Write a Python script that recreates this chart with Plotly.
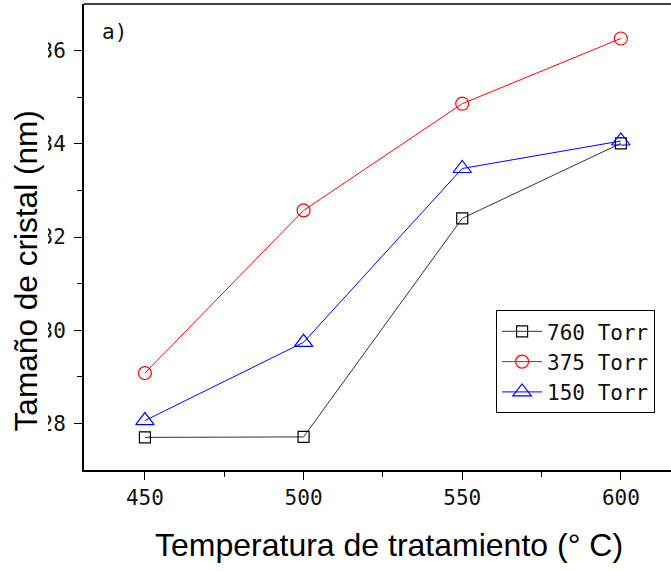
import plotly.graph_objects as go

# Treatment temperature (°C) and crystal size (nm) for each pressure
temperatura = [450, 500, 550, 600]
tam_760 = [27.70, 27.71, 32.40, 34.01]
tam_375 = [29.08, 32.57, 34.86, 36.26]
tam_150 = [28.06, 29.74, 33.47, 34.06]
y_ticks = [28, 30, 32, 34, 36]
y_minor = [29, 31, 33, 35]
x_ticks = [450, 500, 550, 600]
x_minor = [475, 525, 575]

series = [
    ("760 Torr", tam_760, "#000000", "#333333", "square-open", 11),
    ("375 Torr", tam_375, "#ff0000", "#ff0000", "circle-open", 13),
    ("150 Torr", tam_150, "#0000ff", "#0000ff", "triangle-up-open", 16),
]

fig = go.Figure()
for name, vals, mcol, lcol, sym, size in series:
    fig.add_trace(go.Scatter(
        x=temperatura, y=vals, name=name, mode="lines+markers",
        line=dict(color=lcol, width=1),
        marker=dict(symbol=sym, size=size, color=mcol, line=dict(width=1.2, color=mcol)),
    ))
# empty trace so the label-only axis is laid out
fig.add_trace(go.Scatter(x=[], y=[], yaxis="y2", showlegend=False, hoverinfo="skip"))

mono = "DejaVu Sans Mono"
tick_font = dict(family=mono, size=21, color="#111111")

fig.update_layout(
    width=671, height=571,
    margin=dict(l=84, r=0, t=4, b=101),
    paper_bgcolor="white", plot_bgcolor="white",
    showlegend=True,
    legend=dict(
        x=0.702, y=0.343, xanchor="left", yanchor="top",
        bordercolor="#000000", borderwidth=1, bgcolor="white",
        font=dict(family=mono, size=21, color="#111111"),
        itemwidth=40,
    ),
    xaxis=dict(
        range=[430.8, 615.8], tickvals=x_ticks,
        ticks="outside", ticklen=8, tickwidth=1.2, tickcolor="#000000",
        minor=dict(tickvals=x_minor, ticks="outside", ticklen=5, tickcolor="#000000"),
        showline=True, linecolor="#000000", linewidth=1.5,
        showgrid=False, zeroline=False, tickfont=tick_font,
    ),
    yaxis=dict(
        range=[27, 37], tickvals=y_ticks,
        ticks="outside", ticklen=8, tickwidth=1.2, tickcolor="#000000",
        minor=dict(tickvals=y_minor, ticks="outside", ticklen=5, tickcolor="#000000"),
        showline=True, linecolor="#000000", linewidth=1.5,
        showgrid=False, zeroline=False, showticklabels=False,
    ),
    # tick labels of the y axis, set a little further out from the marks
    yaxis2=dict(
        overlaying="y", anchor="x", side="left", range=[27, 37], tickvals=y_ticks,
        ticks="outside", ticklen=13, tickcolor="rgba(0,0,0,0)",
        showline=False, showgrid=False, zeroline=False, tickfont=tick_font,
    ),
    shapes=[
        dict(type="line", xref="paper", yref="paper", x0=0, x1=1, y0=1, y1=1,
             line=dict(color="#000000", width=1.5)),
        # white strip behind the y-axis title, trimming the tick label column
        dict(type="rect", xref="paper", yref="paper", x0=-0.1431, x1=-0.0613,
             y0=0, y1=1, fillcolor="white", line=dict(width=0), layer="above"),
    ],
    annotations=[
        dict(text="Tamaño de cristal (nm)", textangle=-90, xref="paper", yref="paper",
             x=-0.099, y=0.428, xanchor="center", yanchor="middle", showarrow=False,
             font=dict(family="Liberation Sans", size=31.6, color="#000000")),
        dict(text="Temperatura de tratamiento (° C)", xref="paper", yref="paper",
             x=0.519, y=-0.162, xanchor="center", yanchor="middle", showarrow=False,
             font=dict(family="Liberation Sans", size=32, color="#000000")),
        dict(text="a)", xref="paper", yref="paper", x=0.027, y=0.94,
             xanchor="left", yanchor="middle", showarrow=False,
             font=dict(family=mono, size=21, color="#111111")),
    ],
)

fig.write_html("out.html")
